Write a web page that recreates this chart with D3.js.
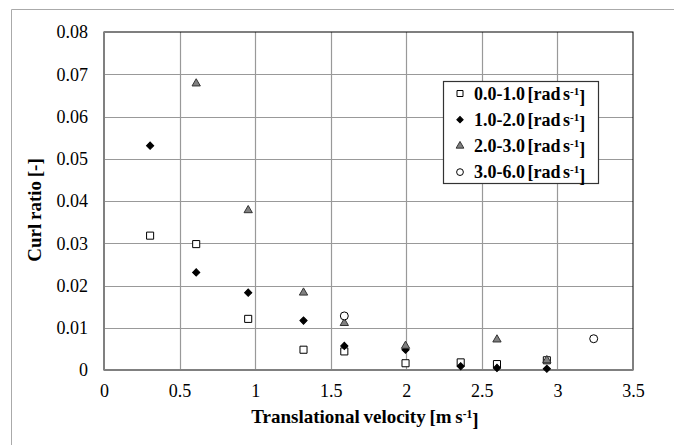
<!DOCTYPE html>
<html>
<head>
<meta charset="utf-8">
<script src="https://cdn.jsdelivr.net/npm/d3@7"></script>
<style>
  body { margin: 0; background: #fff; }
  svg text { font-family: "Times New Roman", "Liberation Serif", Tinos, "DejaVu Serif", serif !important; }
</style>
</head>
<body>
<svg id="chart" width="674" height="445"></svg>
<script>
// velocities [m s-1] and curl ratios per rotational speed band
var xTicks = [0, 0.5, 1, 1.5, 2, 2.5, 3, 3.5];
var yTicks = [0, 0.01, 0.02, 0.03, 0.04, 0.05, 0.06, 0.07, 0.08];

var s1x = [0.305, 0.61, 0.954, 1.32, 1.59, 1.995, 2.36, 2.60, 2.93];
var s1y = [0.0318, 0.0298, 0.0121, 0.0048, 0.0044, 0.0016, 0.0018, 0.0014, 0.0023];
var s2x = [0.305, 0.61, 0.954, 1.32, 1.59, 1.995, 2.36, 2.60, 2.93];
var s2y = [0.0531, 0.0231, 0.0183, 0.0117, 0.0057, 0.0048, 0.0009, 0.0005, 0.0003];
var s3x = [0.61, 0.954, 1.32, 1.59, 1.995, 2.60, 2.93];
var s3y = [0.0678, 0.0378, 0.0183, 0.0111, 0.0057, 0.0072, 0.0023];
var s4x = [1.59, 3.24];
var s4y = [0.0128, 0.0074];

var seriesNames = ["0.0-1.0", "1.0-2.0", "2.0-3.0", "3.0-6.0"];

var svg = d3.select("#chart"),
    margin = {top: 32, left: 104, bottom: 75, right: 41},
    width = 674,
    height = 445;

var x = d3.scaleLinear().domain([0, 3.5]).range([margin.left, width - margin.right]);
var y = d3.scaleLinear().domain([0, 0.08]).range([height - margin.bottom, margin.top]);

// outer chart frame (only left/top visible)
svg.append("line").attr("x1", 11.5).attr("x2", 11.5).attr("y1", 9.5).attr("y2", 445).attr("stroke", "#aaa");
svg.append("line").attr("x1", 11.5).attr("x2", 674).attr("y1", 9.5).attr("y2", 9.5).attr("stroke", "#aaa");

// grid
svg.append("g").selectAll("line").data(xTicks.slice(1, -1)).enter().append("line")
    .attr("x1", d => Math.round(x(d)) + 0.5).attr("x2", d => Math.round(x(d)) + 0.5)
    .attr("y1", y(0)).attr("y2", y(0.08))
    .attr("stroke", "#999").attr("stroke-width", 1.2);
svg.append("g").selectAll("line").data(yTicks.slice(1, -1)).enter().append("line")
    .attr("x1", x(0)).attr("x2", x(3.5))
    .attr("y1", d => Math.round(y(d)) + 0.5).attr("y2", d => Math.round(y(d)) + 0.5)
    .attr("stroke", "#999").attr("stroke-width", 1.2);

// plot frame
svg.append("rect").attr("x", x(0)).attr("y", y(0.08))
    .attr("width", x(3.5) - x(0)).attr("height", y(0) - y(0.08))
    .attr("fill", "none").attr("stroke", "#000").attr("stroke-width", 1);
svg.append("line").attr("x1", x(0)).attr("x2", x(0)).attr("y1", y(0)).attr("y2", y(0.08))
    .attr("stroke", "#808080").attr("stroke-width", 2);
svg.append("line").attr("x1", x(0)).attr("x2", x(3.5)).attr("y1", y(0)).attr("y2", y(0))
    .attr("stroke", "#808080").attr("stroke-width", 2);

// axes
var xAxis = svg.append("g").attr("transform", `translate(0,${y(0)})`)
    .call(d3.axisBottom(x).tickValues(xTicks).tickSize(0).tickPadding(14).tickFormat(d3.format("")));
var yAxis = svg.append("g").attr("transform", `translate(${x(0)},0)`)
    .call(d3.axisLeft(y).tickValues(yTicks).tickSize(0).tickPadding(16).tickFormat(d => d === 0 ? "0" : d3.format(".2f")(d)));
svg.selectAll(".domain").remove();
svg.selectAll("g.tick text").style("font-size", "18px").attr("fill", "#000");

// markers
var sym = {
  square: d3.symbol().type(d3.symbolSquare).size(50),
  diamond: d3.symbol().type(d3.symbolSquare).size(26),
  triangle: d3.symbol().type(d3.symbolTriangle).size(30),
  circle: d3.symbol().type(d3.symbolCircle).size(50)
};
var styles = [
  {shape: "square", fill: "#fff", stroke: "#000", rot: 0},
  {shape: "diamond", fill: "#000", stroke: "#000", rot: 45},
  {shape: "triangle", fill: "#808080", stroke: "#333", rot: 0},
  {shape: "circle", fill: "#fff", stroke: "#000", rot: 0}
];
var xs = [s1x, s2x, s3x, s4x], ys = [s1y, s2y, s3y, s4y];
for (var k = 0; k < 4; k++) {
  var st = styles[k];
  var pts = xs[k].map((v, i) => [v, ys[k][i]]);
  svg.append("g").selectAll("path").data(pts).enter().append("path")
      .attr("d", sym[st.shape])
      .attr("transform", d => `translate(${x(d[0])},${y(d[1])}) rotate(${st.rot})`)
      .attr("fill", st.fill).attr("stroke", st.stroke).attr("stroke-width", 1);
}

// legend
var lg = svg.append("g");
lg.append("rect").attr("x", 443.5).attr("y", 81.5).attr("width", 155).attr("height", 102)
    .attr("fill", "#fff").attr("stroke", "#333").attr("stroke-width", 1.2);
var posY = 93.5;
for (var k = 0; k < 4; k++) {
  var st = styles[k];
  lg.append("path").attr("d", sym[st.shape].size(k === 0 || k === 3 ? 36 : k === 1 ? 20 : 26)())
      .attr("transform", `translate(460,${posY}) rotate(${st.rot})`)
      .attr("fill", st.fill).attr("stroke", st.stroke);
  var t = lg.append("text").attr("x", 474).attr("y", posY).attr("dy", "0.35em")
      .style("font-size", "18px").style("font-weight", "bold").style("word-spacing", "-2px");
  t.append("tspan").text(seriesNames[k] + " [rad s");
  t.append("tspan").attr("dy", "-0.45em").style("font-size", "11px").text("-1");
  t.append("tspan").attr("dy", "0.45em").text("]");
  posY += 26.2;
}

// axis titles
var xt = svg.append("text").attr("x", 365).attr("y", 423).attr("text-anchor", "middle")
    .style("font-size", "19px").style("font-weight", "bold").style("word-spacing", "-1px");
xt.append("tspan").text("Translational velocity [m s");
xt.append("tspan").attr("dy", "-0.45em").style("font-size", "11.5px").text("-1");
xt.append("tspan").attr("dy", "0.45em").text("]");

svg.append("text").attr("transform", "translate(41,210) rotate(-90)").attr("text-anchor", "middle")
    .style("font-size", "19px").style("font-weight", "bold").style("word-spacing", "-1px").text("Curl ratio [-]");
</script>
</body>
</html>
